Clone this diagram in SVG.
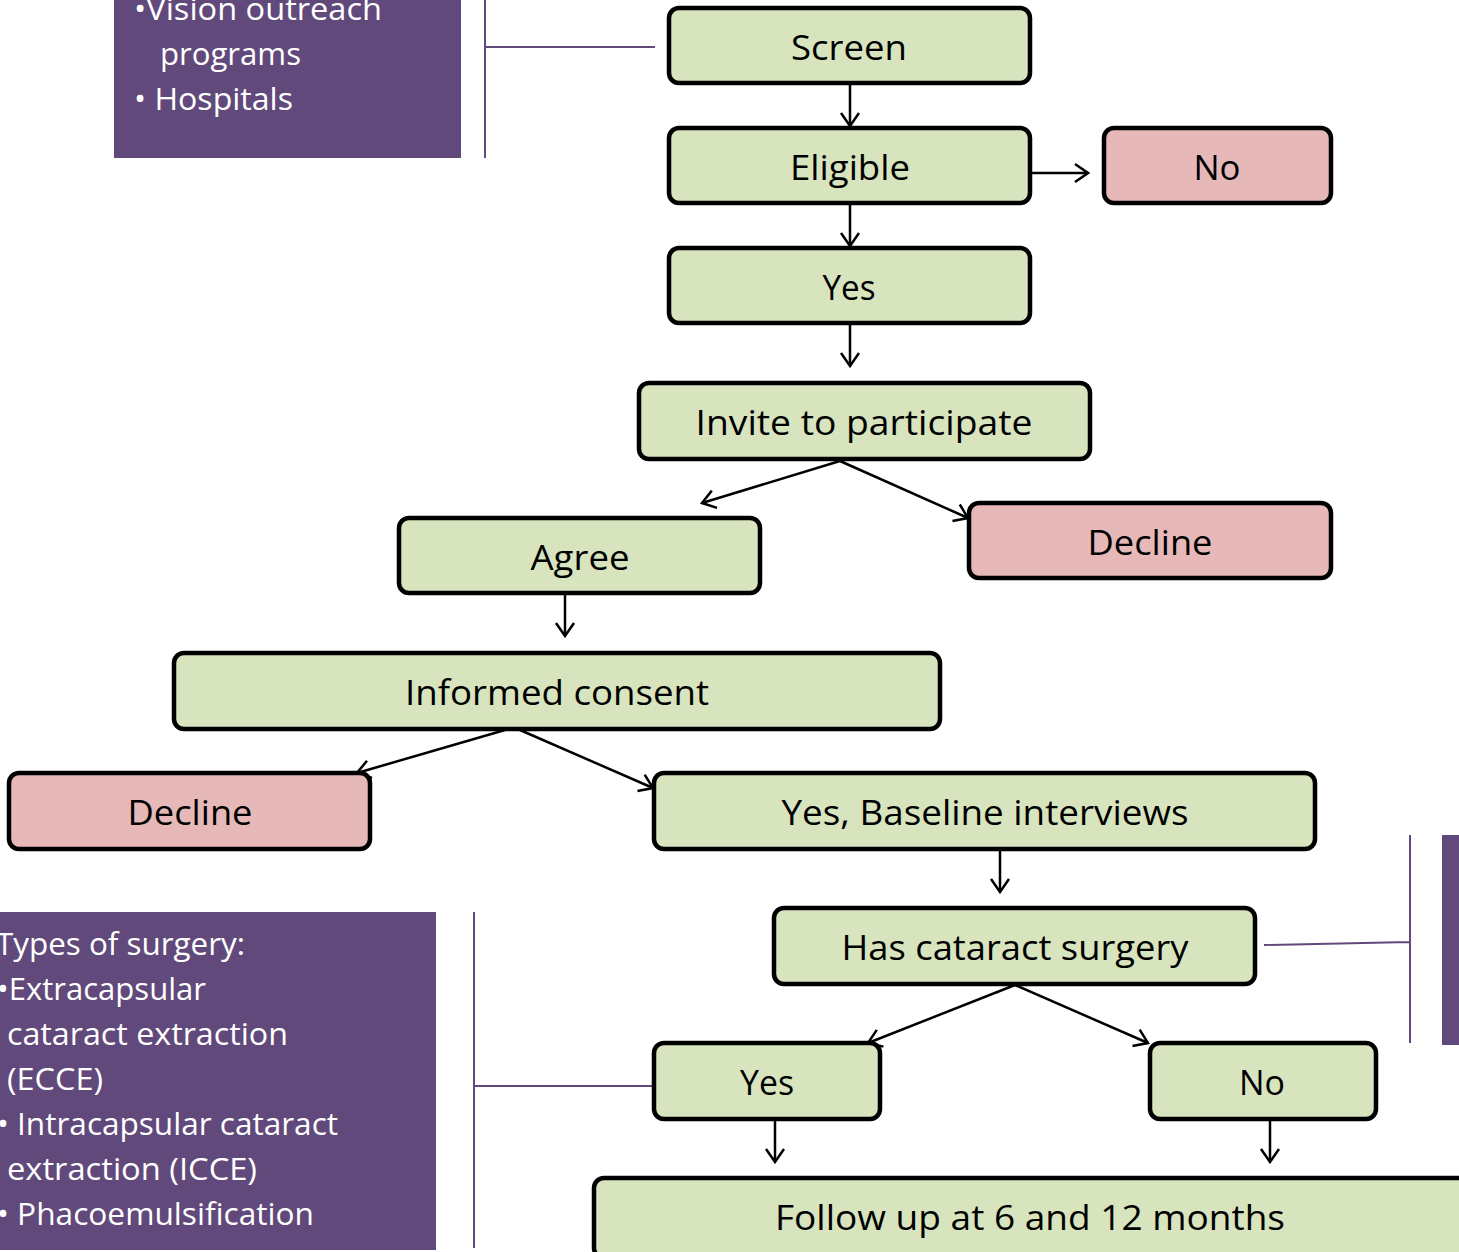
<svg xmlns="http://www.w3.org/2000/svg" width="1459" height="1252" viewBox="0 0 1459 1252">
<defs>
<style>
.g{fill:#D7E4BD;stroke:#000;stroke-width:4.5}
.r{fill:#E6B9B8;stroke:#000;stroke-width:4.5}
.t{font-family:"Open Sans","Noto Sans",sans-serif;font-size:35px;fill:#000;text-anchor:middle}
.pt{font-family:"Open Sans","Noto Sans",sans-serif;font-size:31px;fill:#fff}
.pb{fill:#614A7B}
.pl{stroke:#614A7B;stroke-width:2;fill:none}
.c{stroke:#000;stroke-width:2.5;fill:none;marker-end:url(#ah)}
</style>
<marker id="ah" viewBox="0 0 22 22" refX="20" refY="11" markerWidth="22" markerHeight="22" markerUnits="userSpaceOnUse" orient="auto">
<path d="M7,2 L20,11 L7,20" fill="none" stroke="#000" stroke-width="2.5"/>
</marker>
</defs>
<rect width="1459" height="1252" fill="#fff"/>

<g id="note-sources">
<rect class="pb" x="114" y="-5" width="347" height="163"/>
<text class="pt" x="134" y="20" textLength="248" lengthAdjust="spacingAndGlyphs">•Vision outreach</text>
<text class="pt" x="160" y="65" textLength="141" lengthAdjust="spacingAndGlyphs">programs</text>
<text class="pt" x="134" y="110" textLength="159" lengthAdjust="spacingAndGlyphs">• Hospitals</text>
<path class="pl" d="M485,0 V158 M485,47 H655"/>
</g>

<g id="note-surgery">
<rect class="pb" x="-5" y="912" width="441" height="338"/>
<text class="pt" x="-4" y="955" textLength="249" lengthAdjust="spacingAndGlyphs">Types of surgery:</text>
<text class="pt" x="-3" y="1000" textLength="209" lengthAdjust="spacingAndGlyphs">•Extracapsular</text>
<text class="pt" x="7" y="1045" textLength="281" lengthAdjust="spacingAndGlyphs">cataract extraction</text>
<text class="pt" x="7" y="1090" textLength="96" lengthAdjust="spacingAndGlyphs">(ECCE)</text>
<text class="pt" x="-3" y="1135" textLength="341" lengthAdjust="spacingAndGlyphs">• Intracapsular cataract</text>
<text class="pt" x="7" y="1180" textLength="250" lengthAdjust="spacingAndGlyphs">extraction (ICCE)</text>
<text class="pt" x="-3" y="1225" textLength="317" lengthAdjust="spacingAndGlyphs">• Phacoemulsification</text>
<path class="pl" d="M474,912 V1248 M474,1086 H652"/>
</g>

<g id="note-right">
<rect class="pb" x="1442" y="835" width="20" height="210"/>
<path class="pl" d="M1410,835 V1043 M1264,945 L1410,942"/>
</g>

<g id="connectors">
<path class="c" d="M850,84 V126"/>
<path class="c" d="M1030,173 H1088"/>
<path class="c" d="M850,204 V246"/>
<path class="c" d="M850,324 V366"/>
<path class="c" d="M840,461 L702,503"/>
<path class="c" d="M840,461 L968,518"/>
<path class="c" d="M565,594 V636"/>
<path class="c" d="M505,730 L357,773"/>
<path class="c" d="M520,730 L653,788"/>
<path class="c" d="M1000,850 V892"/>
<path class="c" d="M1015,985 L868,1043"/>
<path class="c" d="M1015,985 L1148,1043"/>
<path class="c" d="M775,1120 V1162"/>
<path class="c" d="M1270,1120 V1162"/>
</g>

<g id="screen"><rect class="g" x="669" y="8" width="361" height="75" rx="10"/><text class="t" x="849" y="60" textLength="116" lengthAdjust="spacingAndGlyphs">Screen</text></g>
<g id="eligible"><rect class="g" x="669" y="128" width="361" height="75" rx="10"/><text class="t" x="850" y="180" textLength="120" lengthAdjust="spacingAndGlyphs">Eligible</text></g>
<g id="no-top"><rect class="r" x="1104" y="128" width="227" height="75" rx="10"/><text class="t" x="1217" y="180" textLength="47" lengthAdjust="spacingAndGlyphs">No</text></g>
<g id="yes-top"><rect class="g" x="669" y="248" width="361" height="75" rx="10"/><text class="t" x="849" y="300" textLength="53" lengthAdjust="spacingAndGlyphs">Yes</text></g>
<g id="invite"><rect class="g" x="639" y="383" width="451" height="76" rx="10"/><text class="t" x="864" y="435" textLength="337" lengthAdjust="spacingAndGlyphs">Invite to participate</text></g>
<g id="agree"><rect class="g" x="399" y="518" width="361" height="75" rx="10"/><text class="t" x="580" y="570" textLength="99" lengthAdjust="spacingAndGlyphs">Agree</text></g>
<g id="decline-right"><rect class="r" x="969" y="503" width="362" height="75" rx="10"/><text class="t" x="1150" y="555" textLength="125" lengthAdjust="spacingAndGlyphs">Decline</text></g>
<g id="consent"><rect class="g" x="174" y="653" width="766" height="76" rx="10"/><text class="t" x="557" y="705" textLength="304" lengthAdjust="spacingAndGlyphs">Informed consent</text></g>
<g id="decline-left"><rect class="r" x="9" y="773" width="361" height="76" rx="10"/><text class="t" x="190" y="825" textLength="125" lengthAdjust="spacingAndGlyphs">Decline</text></g>
<g id="baseline"><rect class="g" x="654" y="773" width="661" height="76" rx="10"/><text class="t" x="985" y="825" textLength="407" lengthAdjust="spacingAndGlyphs">Yes, Baseline interviews</text></g>
<g id="surgery"><rect class="g" x="774" y="908" width="481" height="76" rx="10"/><text class="t" x="1015" y="960" textLength="347" lengthAdjust="spacingAndGlyphs">Has cataract surgery</text></g>
<g id="yes-bottom"><rect class="g" x="654" y="1043" width="226" height="76" rx="10"/><text class="t" x="767" y="1095" textLength="54" lengthAdjust="spacingAndGlyphs">Yes</text></g>
<g id="no-bottom"><rect class="g" x="1150" y="1043" width="226" height="76" rx="10"/><text class="t" x="1262" y="1095" textLength="46" lengthAdjust="spacingAndGlyphs">No</text></g>
<g id="followup"><rect class="g" x="594" y="1178" width="880" height="80" rx="10"/><text class="t" x="1030" y="1230" textLength="510" lengthAdjust="spacingAndGlyphs">Follow up at 6 and 12 months</text></g>
</svg>
